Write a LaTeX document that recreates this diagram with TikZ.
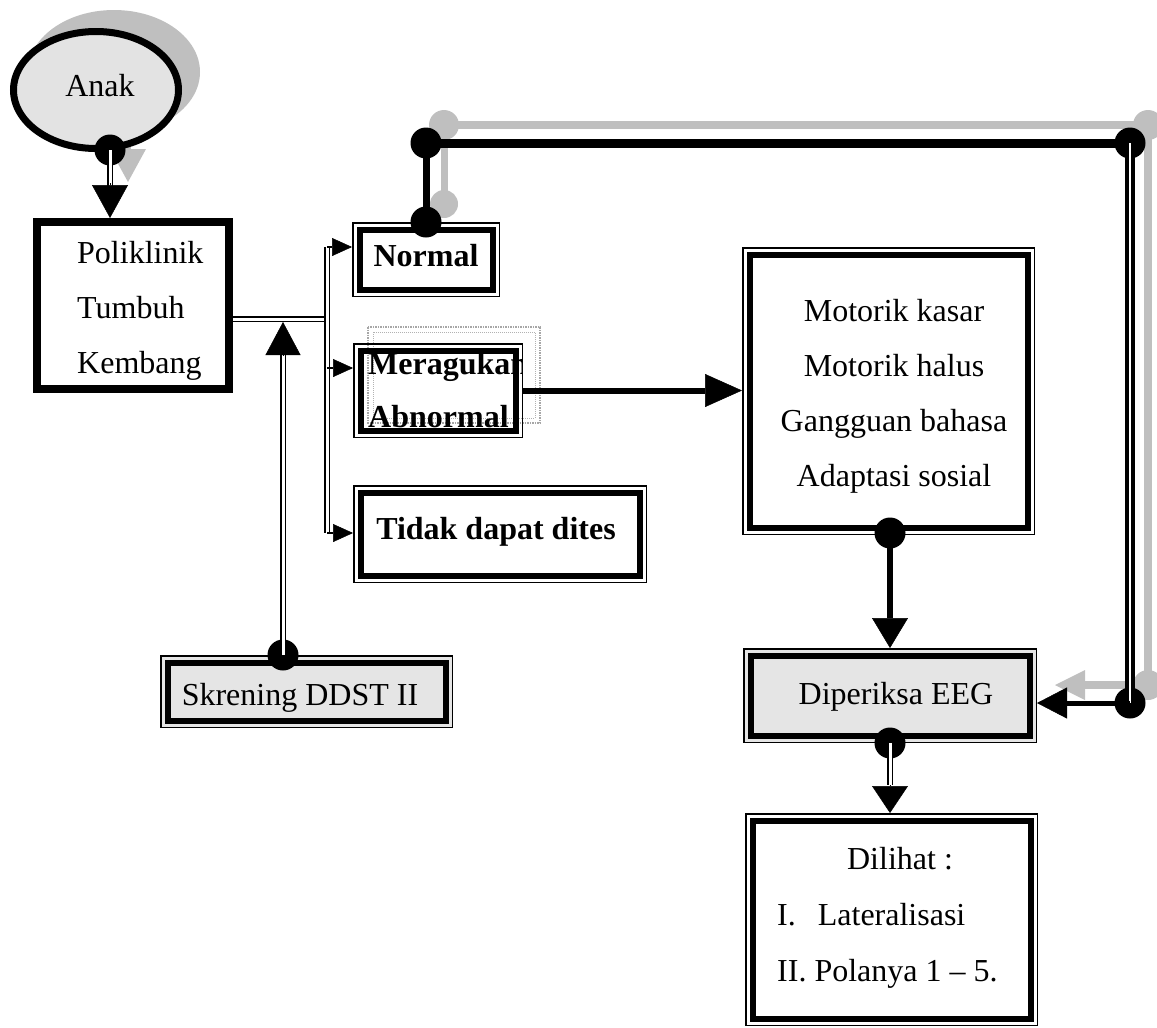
\documentclass[tikz,border=0pt]{standalone}
\usepackage{fontspec}
\setmainfont{Liberation Serif}
\usetikzlibrary{arrows.meta,shapes.geometric}
\newcommand\thickin[1]{\draw[line width=6pt] ([shift={(7.5pt,-7.5pt)}]#1.north west) rectangle ([shift={(-7.5pt,7.5pt)}]#1.south east);}
\begin{document}
\begin{tikzpicture}[x=1pt,y=-1pt,
  txt/.style={inner sep=0pt, font=\fontsize{32}{38}\selectfont},
  btxt/.style={inner sep=0pt, font=\fontsize{32}{38}\selectfont\bfseries},
  bx/.style 2 args={draw, line width=1.5pt, inner sep=0pt, minimum width=#1, minimum height=#2},
  dline/.style={double=white, double distance=3pt, line width=1.3pt},
  blob/.style={circle, fill=black, inner sep=0pt, minimum size=31pt},
  shd/.style={gray!50},
  tipbig/.style={line width=1pt, -{Triangle[width=36pt,length=33pt,line width=0.5pt]}},
  tipsmall/.style={line width=1.5pt, -{Triangle[width=18pt,length=20pt,line width=0.5pt]}},
]
\useasboundingbox (0,0) rectangle (1157,1028);

% ---- shadows ----
\node[ellipse, fill=gray!50, inner sep=0pt, minimum width=172pt, minimum height=124pt] (anaksh) at (114,72) {};
\draw[shd, line width=6pt] (128,132) -- (128,170);
\fill[shd] (128,182) -- (110,149) -- (146,149) -- cycle;
\coordinate (s0) at (444,204);
\coordinate (s1) at (444,125);
\coordinate (s2) at (1148,125);
\coordinate (s3) at (1148,685);
\draw[shd, line width=7pt] (s0) -- (s1);
\draw[shd, line width=8pt] (s1) -- (s2) -- (s3) -- (1085,685);
\fill[shd] (1055,685) -- (1085,670) -- (1085,700) -- cycle;
\fill[shd] (s0) circle[radius=14pt];
\fill[shd] (s1) circle[radius=15pt];
\fill[shd] (s2) circle[radius=15pt];
\fill[shd] (s3) circle[radius=15pt];

% ---- Anak ----
\node[ellipse, draw, line width=7pt, fill=gray!22, inner sep=0pt, minimum width=165pt, minimum height=117pt] (anak) at (96,90) {};
\node[txt, anchor=base] (ta) at (100,96) {Anak};

% ---- Poliklinik ----
\node[draw, line width=8pt, inner sep=0pt, minimum width=192pt, minimum height=167pt] (poli) at (133,305.5) {};
\node[txt, anchor=base west] (tp1) at (77,263) {Poliklinik};
\node[txt, anchor=base west] (tp2) at (77,318) {Tumbuh};
\node[txt, anchor=base west] (tp3) at (77,373) {Kembang};

% ---- Normal ----
\node[bx={146.5pt}{73.5pt}] (normal) at (426,259.5) {};
\thickin{normal}
\node[btxt, anchor=base] (tn) at (426,266) {Normal};

% ---- Meragukan / Abnormal ----
\draw[gray!70, line width=1.5pt, densely dotted] (368,327) rectangle (540,423);
\draw[gray!60, line width=1pt, densely dotted] (373,332) rectangle (535,418);
\node[bx={168.5pt}{93.5pt}] (merag) at (438,390.5) {};
\begin{scope}
\clip (355,345) rectangle (521,436);
\node[btxt, anchor=base west] (tm1) at (368,374) {Meragukan};
\node[btxt, anchor=base west] (tm2) at (368,427) {Abnormal};
\end{scope}
\thickin{merag}

% ---- Tidak dapat dites ----
\node[bx={292.5pt}{96.5pt}] (tidak) at (500,534) {};
\thickin{tidak}
\node[btxt, anchor=base] (tt) at (496,539) {Tidak dapat dites};

% ---- Skrening ----
\node[bx={291.5pt}{71.5pt}, fill=gray!20] (skr) at (306.5,691.5) {};
\thickin{skr}
\node[txt, anchor=base] (ts) at (300,705) {Skrening DDST II};

% ---- Motorik ----
\node[bx={291.5pt}{286.5pt}] (motor) at (888.5,391) {};
\thickin{motor}
\node[txt, anchor=base] (tmo1) at (894,321) {Motorik kasar};
\node[txt, anchor=base] (tmo2) at (894,376) {Motorik halus};
\node[txt, anchor=base] (tmo3) at (894,431) {Gangguan bahasa};
\node[txt, anchor=base] (tmo4) at (894,486) {Adaptasi sosial};

% ---- Diperiksa EEG ----
\node[bx={292.5pt}{93.5pt}, fill=gray!20] (diper) at (890,695.5) {};
\thickin{diper}
\node[txt, anchor=base] (td) at (896,704) {Diperiksa EEG};

% ---- Dilihat ----
\node[bx={291.5pt}{211.5pt}] (dilihat) at (891.5,919.5) {};
\thickin{dilihat}
\node[txt, anchor=base] (tl1) at (900,869) {Dilihat :};
\node[txt, anchor=base west] (tl2) at (777,925) {I.\hspace{22pt}Lateralisasi};
\node[txt, anchor=base west] (tl3) at (777,981) {II. Polanya 1 \textendash{} 5.};

% ---- connectors ----
% Anak -> Poliklinik
\node[blob] (d1) at (110,150) {};
\draw[dline] (d1.center) -- (110,186);
\draw[tipbig] (110,183) -- (d1 |- poli.north);

% Poliklinik -> bus
\coordinate (b1) at (327,319);
\coordinate (bt) at (327,247);
\coordinate (bm) at (327,368);
\coordinate (bb) at (327,533);
\draw[dline] ([yshift=-13.5pt]poli.east) -- (b1);
\draw[dline] (bt) -- (bb);
\draw[tipsmall] (bt) -- (bt -| normal.west);
\draw[tipsmall] (bm) -- (bm -| merag.west);
\draw[tipsmall] (bb) -- (bb -| tidak.west);

% Skrening -> junction
\node[blob] (d2) at (283,655) {};
\coordinate (jn) at (283,322);
\draw[dline] (d2.center) -- (283,353);
\draw[line width=1pt, -{Triangle[width=35pt,length=33pt,line width=0.5pt]}] (283,356) -- (jn);

% Meragukan -> Motorik
\draw[line width=6pt, -{Triangle[width=33pt,length=37pt,line width=0.5pt]}] (merag.east) -- (merag.east -| motor.west);

% Motorik -> Diperiksa
\node[blob] (d3) at (890,533) {};
\draw[line width=6pt, -{Triangle[width=36pt,length=30pt,line width=0.5pt]}] (d3.center) -- (d3 |- diper.north);

% Diperiksa -> Dilihat
\node[blob] (d4) at (diper.south) {};
\draw[dline] (d4.center) -- (890,785);
\draw[line width=1pt, -{Triangle[width=36pt,length=27pt,line width=0.5pt]}] (890,785) -- (d4 |- dilihat.north);

% Normal loop -> Diperiksa
\node[blob] (dn) at (normal.north) {};
\node[blob] (c1) at (426,143) {};
\node[blob] (c2) at (1130,143) {};
\node[blob] (c3) at (1130,703) {};
\draw[line width=7pt] (dn.center) -- (c1.center);
\draw[line width=9pt] (c1.center) -- (c2.center);
\draw[line width=4pt, double=white, double distance=1.5pt] (c2.center) -- (c3.center);
\draw[line width=5pt, -{Triangle[width=31pt,length=30pt,line width=0.5pt]}] (c3.center) -- (c3 -| diper.east);
\end{tikzpicture}
\end{document}
